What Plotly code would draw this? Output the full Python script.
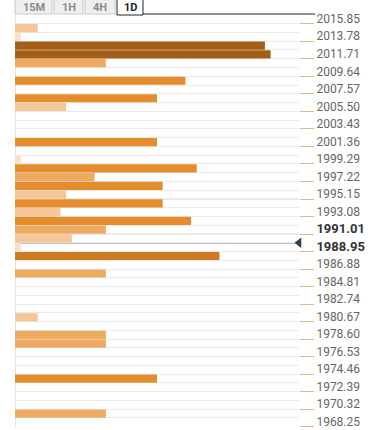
import plotly.graph_objects as go

# ---- data ----
level_prices = [2015.33, 2014.30, 2013.26, 2012.23, 2011.19, 2009.12, 2007.05, 2006.02,
                2001.88, 1999.81, 1998.77, 1997.74, 1996.70, 1995.67, 1994.63, 1993.60,
                1992.56, 1991.53, 1990.49, 1989.46, 1988.42, 1986.35, 1981.18, 1979.11,
                1978.07, 1973.93, 1969.79]
strength = [8, 2, 88, 90, 32, 60, 50, 18,
            50, 2, 64, 28, 52, 18, 52, 16,
            62, 32, 20, 2, 72, 32, 8, 32,
            32, 50, 32]
tick_prices = [2015.85, 2013.78, 2011.71, 2009.64, 2007.57, 2005.50, 2003.43, 2001.36,
               1999.29, 1997.22, 1995.15, 1993.08, 1991.01, 1988.95, 1986.88, 1984.81,
               1982.74, 1980.67, 1978.60, 1976.53, 1974.46, 1972.39, 1970.32, 1968.25]
bold_ticks = [1991.01, 1988.95]
current_price = 1989.975
row_step = 1.035
tabs = ["15M", "1H", "4H", "1D"]
active_tab = "1D"


def bar_color(v):
    if v < 5:
        return "#f8e0c6"
    if v < 25:
        return "#f4c698"
    if v < 40:
        return "#edab62"
    if v < 70:
        return "#e58c2c"
    if v < 80:
        return "#cf7b22"
    return "#a35f17"


W, H = 375, 430
ML, MR, MT, MB = 15, 76, 15, 3
PW, PH = W - ML - MR, H - MT - MB


def px(x):
    return (x - ML) / PW


def py(y):
    return 1 - (y - MT) / PH


fig = go.Figure()
fig.add_trace(go.Bar(
    x=strength, y=level_prices, orientation="h",
    marker=dict(color=[bar_color(v) for v in strength], line=dict(width=0)),
    hoverinfo="skip", showlegend=False,
))
fig.add_trace(go.Scatter(
    x=[100], y=[current_price], mode="markers",
    marker=dict(symbol="triangle-left", size=9, color="#2c3e50"),
    cliponaxis=False, hoverinfo="skip", showlegend=False,
))

ticktext = []
for t in tick_prices:
    s = f"{t:.2f}"
    if t in bold_ticks:
        s = f"<b><span style='font-size:13px;color:#333'>{s}</span></b>"
    ticktext.append(s)

y_bottom = tick_prices[-1] - 0.03
y_top = tick_prices[0] + row_step

fig.update_layout(
    width=W, height=H,
    margin=dict(l=ML, r=MR, t=MT, b=MB, pad=0, autoexpand=False),
    paper_bgcolor="white", plot_bgcolor="white",
    bargap=0.06,
    font=dict(family="Roboto, sans-serif", size=12, color="#666"),
    xaxis=dict(range=[0, 100], showticklabels=False, showgrid=False,
               zeroline=True, zerolinecolor="#e4e4e4", zerolinewidth=1,
               fixedrange=True, automargin=False),
    yaxis=dict(side="right", range=[y_bottom, y_top], automargin=False,
               tickmode="array", tickvals=tick_prices, ticktext=ticktext,
               ticks="outside", ticklen=14, tickcolor="#d9bc8c", tickwidth=1,
               ticklabelshift=-5, ticklabeloverflow="allow",
               showgrid=True, gridcolor="#ebebeb", gridwidth=1,
               minor=dict(tickmode="linear", tick0=tick_prices[-1], dtick=row_step,
                          showgrid=True, gridcolor="#ebebeb", gridwidth=1, ticks=""),
               zeroline=False, showline=False, fixedrange=True,
               tickfont=dict(family="Roboto, sans-serif", size=12, color="#666")),
    shapes=[dict(type="line", xref="x", yref="y", x0=0, x1=100,
                 y0=current_price, y1=current_price, layer="below",
                 line=dict(color="#2c3e50", width=1))],
)

# tabs
tab_x = {"15M": (15, 52), "1H": (54, 83), "4H": (85, 115), "1D": (117, 143)}
for t in tabs:
    x0, x1 = tab_x[t]
    active = t == active_tab
    fig.add_shape(type="rect", xref="paper", yref="paper",
                  x0=px(x0), x1=px(x1), y0=py(14 if not active else 15), y1=py(-30),
                  fillcolor="white" if active else "#efefef",
                  line=dict(color="#222" if active else "#c8c8c8", width=1))
    fig.add_annotation(xref="paper", yref="paper", x=px((x0 + x1) / 2), y=py(7),
                       text=f"<b>{t}</b>", showarrow=False,
                       font=dict(family="Roboto, sans-serif", size=11,
                                 color="#222" if active else "#8a8a8a"),
                       xanchor="center", yanchor="middle")
fig.add_shape(type="line", xref="paper", yref="paper",
              x0=px(143), x1=px(315), y0=py(14), y1=py(14),
              line=dict(color="#222", width=1))

fig.write_html("out.html", config={"displayModeBar": False},
               post_script="document.body.style.margin='0';")
